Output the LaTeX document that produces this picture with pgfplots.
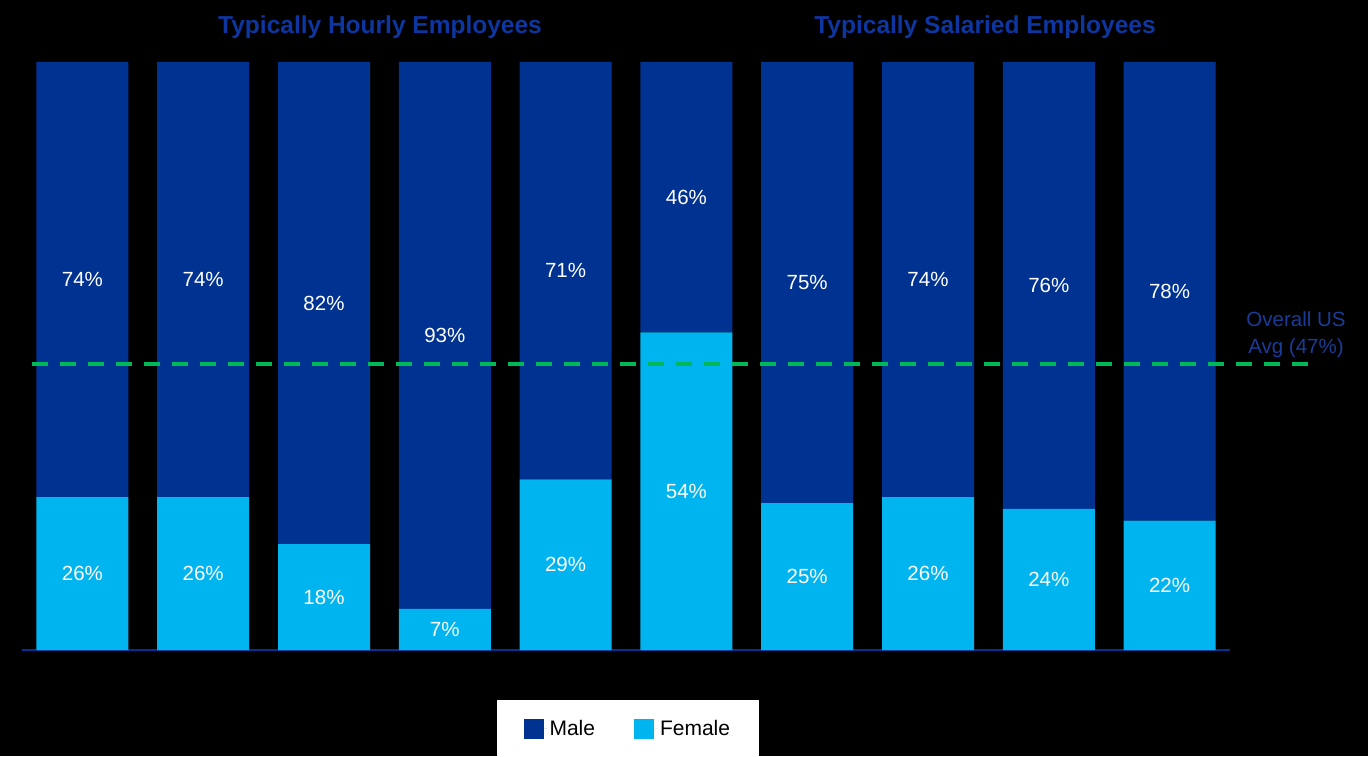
\documentclass[border=0pt]{standalone}
\usepackage{pgfplots}
\pgfplotsset{compat=1.18}
\usepackage{pgfplotstable}
\usepackage{fontspec}
\setmainfont{Liberation Sans}
\definecolor{male}{HTML}{003391}
\definecolor{female}{HTML}{00B4F0}
\definecolor{titleblue}{HTML}{0E36A0}
\definecolor{avgblue}{HTML}{1B3C96}
\definecolor{avggreen}{HTML}{00B857}
\pgfplotstableread{
x female male
0 26 74
1 26 74
2 18 82
3 7 93
4 29 71
5 54 46
6 25 75
7 26 74
8 24 76
9 22 78
}\data
\begin{document}
\begin{tikzpicture}
\fill[black] (-22pt,-106pt) rectangle (1346pt,650pt);
\begin{axis}[
  at={(0pt,0pt)}, anchor=south west,
  scale only axis, width=1208pt, height=588pt,
  xmin=-0.5, xmax=9.5, ymin=0, ymax=100,
  axis lines=none,
  clip=false,
  set layers,
  ybar stacked, bar width=92pt,
  /pgf/number format/assume math mode=true,
  legend columns=2,
  reverse legend,
  legend style={at={(0.5015,-0.084)}, anchor=north, fill=white, draw=none,
    font=\fontsize{21}{25}\selectfont, text=black,
    inner xsep=27pt, inner ysep=19pt,
    /tikz/every even column/.append style={column sep=37pt}},
  legend image code/.code={\fill[#1,draw=none] (0pt,-10pt) rectangle (20pt,10pt);\path (0pt,0pt) -- (24pt,0pt);},
  nodes near coords={\pgfmathprintnumber{\pgfplotspointmeta}\%},
  every node near coord/.append style={anchor=center, text=white,
    font=\fontsize{20.5}{24}\selectfont},
]
\addplot[fill=female, draw=none] table[x=x,y=female]{\data};
\addlegendentry{Female}
\addplot[fill=male, draw=none] table[x=x,y=male]{\data};
\addlegendentry{Male}
\draw[male, line width=1.5pt] (rel axis cs:0,0) -- (rel axis cs:1,0);
\addplot[stack plots=false, sharp plot, nodes near coords={}, forget plot, on layer=axis foreground, draw=avggreen, line width=4pt, dash pattern=on 16pt off 12pt, mark=none]
  coordinates {(-0.414,48.6) (10.16,48.6)};
\end{axis}
\node[text=titleblue, font=\fontsize{24.5}{28}\selectfont\bfseries] at (358pt,623pt) {Typically Hourly Employees};
\node[text=titleblue, font=\fontsize{24.5}{28}\selectfont\bfseries] at (963pt,623pt) {Typically Salaried Employees};
\node[text=avgblue, font=\fontsize{20.5}{27}\selectfont, align=center] at (1274pt,315pt) {Overall US\\Avg (47\%)};
\pgfresetboundingbox
\path (-22pt,-106pt) rectangle (1346pt,650pt);
\end{tikzpicture}
\end{document}
